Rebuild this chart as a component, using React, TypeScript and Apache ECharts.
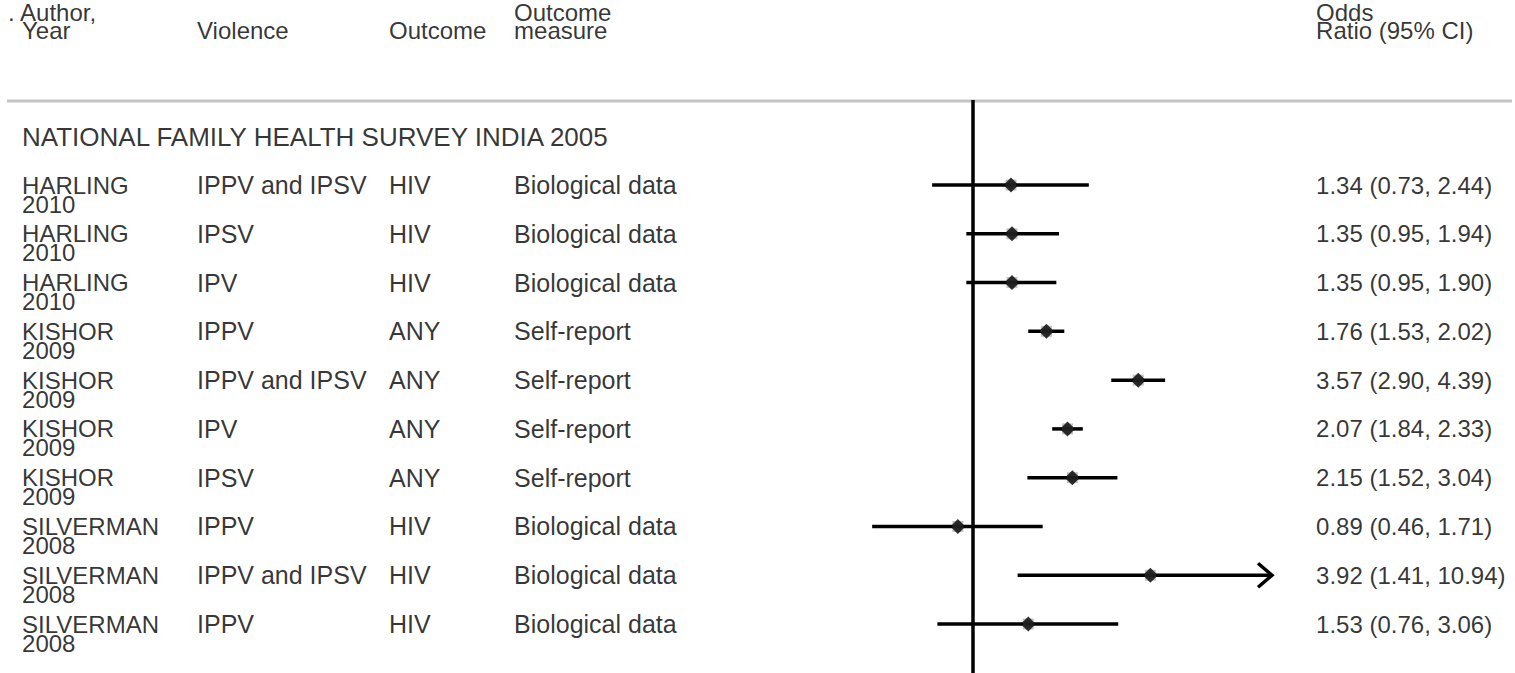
import React, { useEffect, useRef } from "react";
import * as echarts from "echarts";

// ---- data ----
const heading = "NATIONAL FAMILY HEALTH SURVEY INDIA 2005";
const authors = ["HARLING", "HARLING", "HARLING", "KISHOR", "KISHOR", "KISHOR", "KISHOR", "SILVERMAN", "SILVERMAN", "SILVERMAN"];
const years = ["2010", "2010", "2010", "2009", "2009", "2009", "2009", "2008", "2008", "2008"];
const violence = ["IPPV and IPSV", "IPSV", "IPV", "IPPV", "IPPV and IPSV", "IPV", "IPSV", "IPPV", "IPPV and IPSV", "IPPV"];
const outcome = ["HIV", "HIV", "HIV", "ANY", "ANY", "ANY", "ANY", "HIV", "HIV", "HIV"];
const measure = ["Biological data", "Biological data", "Biological data", "Self-report", "Self-report", "Self-report", "Self-report", "Biological data", "Biological data", "Biological data"];
const oddsRatio = [1.34, 1.35, 1.35, 1.76, 3.57, 2.07, 2.15, 0.89, 3.92, 1.53];
const ciLow = [0.73, 0.95, 0.95, 1.53, 2.9, 1.84, 1.52, 0.46, 1.41, 0.76];
const ciHigh = [2.44, 1.94, 1.9, 2.02, 4.39, 2.33, 3.04, 1.71, 10.94, 3.06];

const headerLine1 = ["Author,", "", "", "Outcome", "Odds"];
const headerLine2 = ["Year", "Violence", "Outcome", "measure", "Ratio (95% CI)"];

// ---- layout ----
const W = 1515;
const H = 673;
const AXIS_MIN = 0.1;
const AXIS_MAX = 10;
const Y_MIN = -3.793;
const Y_MAX = 10.004;
const ROW_HDR1 = -3.54;
const ROW_HDR2 = -3.17;
const ROW_SEP = -1.722;
const ROW_HEADING = -0.984;
const COLS = [22, 197, 389, 514, 1316];
const FONT = "'Liberation Sans', Arial, Helvetica, sans-serif";
const FS = 24;
const FS_TEXT = 25;
const FS_HEADING = 26;
const ROW_LH = 19;
const HDR_LH = 18;

function textSeries(name: string, pts: [number, number, string][], lh: number, fs: number, extraLabel: any = {}) {
  return {
    name,
    type: "scatter",
    xAxisIndex: 0,
    yAxisIndex: 0,
    symbolSize: 0.1,
    itemStyle: { color: "rgba(0,0,0,0)" },
    silent: true,
    data: pts.map((p) => ({ value: [p[0], p[1]], text: p[2] })),
    label: {
      show: true,
      position: "right",
      distance: 0,
      align: "left",
      verticalAlign: "top",
      offset: [0, -lh / 2],
      lineHeight: lh,
      color: "#000",
      fontFamily: FONT,
      fontSize: fs,
      formatter: (p: any) => p.data.text,
      ...extraLabel,
    },
  };
}

export default function App() {
  const ref = useRef<HTMLDivElement>(null);
  useEffect(() => {
    if (!ref.current) return;
    const chart = echarts.init(ref.current, null, { renderer: "svg" });
    const rows = authors.map((_, i) => i);
    const orText = rows.map(
      (i) => `${oddsRatio[i].toFixed(2)} (${ciLow[i].toFixed(2)}, ${ciHigh[i].toFixed(2)})`
    );
    const hdrPts: [number, number, string][] = [];
    headerLine2.forEach((t2, k) => {
      if (k === 0) return;
      const t1 = headerLine1[k];
      if (t1) hdrPts.push([COLS[k], ROW_HDR1, `${t1}\n${t2}`]);
      else hdrPts.push([COLS[k], ROW_HDR2, t2]);
    });

    const rich = {
      t: { fontFamily: FONT, fontSize: FS, color: "#000", lineHeight: HDR_LH },
      pad: { width: 14, lineHeight: HDR_LH },
    };

    const option: any = {
      animation: false,
      backgroundColor: "#fff",
      grid: [
        { left: 0, right: 0, top: 0, bottom: 0 },
        { left: 674, right: W - 1272, top: 0, bottom: 0 },
      ],
      xAxis: [
        { type: "value", gridIndex: 0, min: 0, max: W, show: false },
        { type: "log", gridIndex: 1, min: AXIS_MIN, max: AXIS_MAX, logBase: 10, show: false },
      ],
      yAxis: [
        { type: "value", gridIndex: 0, min: Y_MIN, max: Y_MAX, inverse: true, show: false },
        { type: "value", gridIndex: 1, min: Y_MIN, max: Y_MAX, inverse: true, show: false },
      ],
      series: [
        {
          type: "line",
          xAxisIndex: 0,
          yAxisIndex: 0,
          symbol: "none",
          silent: true,
          lineStyle: { color: "#c4c4c4", width: 3 },
          data: [
            [7, ROW_SEP],
            [1512, ROW_SEP],
          ],
        },
        {
          type: "line",
          xAxisIndex: 1,
          yAxisIndex: 1,
          symbol: "none",
          silent: true,
          lineStyle: { color: "#000", width: 3.5 },
          data: [
            [1, ROW_SEP - 0.02],
            [1, Y_MAX],
          ],
        },
        {
          type: "custom",
          xAxisIndex: 1,
          yAxisIndex: 1,
          silent: true,
          encode: { x: [1, 2], y: 0 },
          data: rows.map((i) => [i, ciLow[i], ciHigh[i]]),
          renderItem: (params: any, api: any) => {
            const i = api.value(0);
            const lo = Math.max(api.value(1), AXIS_MIN);
            const hi = api.value(2);
            const p1 = api.coord([lo, i]);
            const p2 = api.coord([Math.min(hi, AXIS_MAX), i]);
            const children: any[] = [
              {
                type: "line",
                shape: { x1: p1[0], y1: p1[1], x2: p2[0], y2: p2[1] },
                style: { stroke: "#000", lineWidth: 3.5 },
              },
            ];
            if (hi > AXIS_MAX) {
              children.push({
                type: "polyline",
                shape: {
                  points: [
                    [p2[0] - 14, p2[1] - 12],
                    [p2[0], p2[1]],
                    [p2[0] - 14, p2[1] + 12],
                  ],
                },
                style: { stroke: "#000", lineWidth: 3.5, fill: "none" },
              });
            }
            return { type: "group", children };
          },
        },
        {
          type: "scatter",
          xAxisIndex: 1,
          yAxisIndex: 1,
          symbol: "rect",
          symbolSize: 11,
          silent: true,
          itemStyle: { color: "#b4b4b4" },
          data: rows.map((i) => [oddsRatio[i], i]),
        },
        {
          type: "scatter",
          xAxisIndex: 1,
          yAxisIndex: 1,
          symbol: "diamond",
          symbolSize: [15, 15],
          silent: true,
          itemStyle: { color: "#000" },
          data: rows.map((i) => [oddsRatio[i], i]),
        },
        textSeries(
          "headerAuthor",
          [[8, ROW_HDR1, `{t|. ${headerLine1[0]}}\n{pad|}{t|${headerLine2[0]}}`]],
          HDR_LH,
          FS,
          { rich }
        ),
        textSeries("header", hdrPts, HDR_LH, FS),
        textSeries("heading", [[COLS[0], ROW_HEADING, heading]], ROW_LH, FS_HEADING),
        textSeries("author", rows.map((i) => [COLS[0], i, `${authors[i]}\n${years[i]}`] as [number, number, string]), ROW_LH, FS),
        textSeries("violence", rows.map((i) => [COLS[1], i, violence[i]] as [number, number, string]), ROW_LH, FS_TEXT),
        textSeries("outcome", rows.map((i) => [COLS[2], i, outcome[i]] as [number, number, string]), ROW_LH, FS_TEXT),
        textSeries("measure", rows.map((i) => [COLS[3], i, measure[i]] as [number, number, string]), ROW_LH, FS_TEXT),
        textSeries("or", rows.map((i) => [COLS[4], i, orText[i]] as [number, number, string]), ROW_LH, FS),
      ],
    };
    chart.setOption(option);
    return () => chart.dispose();
  }, []);
  return (
    <div
      ref={ref}
      style={{ position: "fixed", left: 0, top: 0, width: W, height: H, background: "#fff" }}
    />
  );
}
